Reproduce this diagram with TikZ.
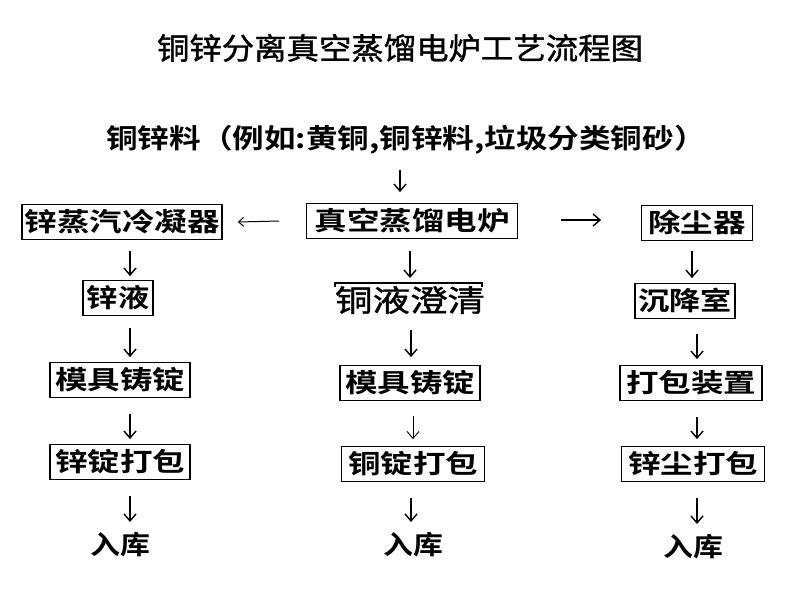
\documentclass[tikz,border=0pt]{standalone}
\usepackage{fontspec}
\usetikzlibrary{arrows.meta}
\newfontfamily\cjk{Noto Sans CJK SC}[BoldFont={Noto Sans CJK SC Bold}]
\newfontfamily\cjkm{Noto Sans CJK SC}[FakeBold=1.2]
\newcommand{\hs}[2]{\scalebox{#1}[1]{#2}}
\tikzset{
  box/.style={draw, line width=1.8pt, font=\cjk\bfseries\fontsize{26}{26}\selectfont,
    inner xsep=0pt, inner ysep=0pt, minimum height=35, text height=22, text depth=4},
  plain/.style={font=\cjk\bfseries\fontsize{26}{26}\selectfont, inner sep=0pt},
  arr/.style={-{Straight Barb[length=7pt,width=12pt]}, line width=1.4pt},
}
\begin{document}
\begin{tikzpicture}[x=1pt,y=-1pt]
\useasboundingbox[fill=white] (0,0) rectangle (800,600);
\node[font=\cjkm\fontsize{30}{30}\selectfont, inner sep=0pt] (title) at (400,48) {\hs{1.08}{铜锌分离真空蒸馏电炉工艺流程图}};
\node[plain, font=\cjk\bfseries\fontsize{27}{27}\selectfont] (src) at (406,140) {\hs{1.17}{铜锌料（例如:黄铜,铜锌料,垃圾分类铜砂）}};

% row 1
\node[box, minimum width=200] (l1) at (122,222) {\hs{1.25}{锌蒸汽冷凝器}};
\node[box, minimum width=211] (c1) at (412,221) {\hs{1.25}{真空蒸馏电炉}};
\node[box, minimum width=111] (r1) at (697,223) {\hs{1.25}{除尘器}};
% row 2
\node[box, minimum width=70] (l2) at (118,298) {\hs{1.2}{锌液}};
\node[font=\cjkm\fontsize{30}{30}\selectfont, inner sep=0pt] (c2) at (410,300) {\hs{1.25}{铜液澄清}};
\node[box, minimum width=100] (r2) at (685,301) {\hs{1.2}{沉降室}};
% row 3
\node[box, minimum width=140] (l3) at (120,380) {\hs{1.25}{模具铸锭}};
\node[box, minimum width=140] (c3) at (410,383) {\hs{1.25}{模具铸锭}};
\node[box, minimum width=142] (r3) at (691,383) {\hs{1.25}{打包装置}};
% row 4
\node[box, minimum width=140] (l4) at (120,462) {\hs{1.25}{锌锭打包}};
\node[box, minimum width=143] (c4) at (413,464) {\hs{1.25}{铜锭打包}};
\node[box, minimum width=143] (r4) at (693,464) {\hs{1.25}{锌尘打包}};
% row 5
\node[plain] (l5) at (120,545) {\hs{1.15}{入库}};
\node[plain] (c5) at (413,545) {\hs{1.15}{入库}};
\node[plain] (r5) at (693,547) {\hs{1.15}{入库}};

% top line over 铜液澄清
\draw[line width=1.1pt] ([xshift=-75,yshift=13]c2.center) -- ([xshift=-75,yshift=17]c2.center)
  -- ([xshift=72,yshift=17]c2.center) -- ([xshift=72,yshift=13]c2.center);

% arrows
\draw[arr] ([xshift=-6,yshift=-30]src.center) -- ([xshift=-12,yshift=10.5]c1.north);
\draw[arr, line width=1pt, -{Straight Barb[length=5pt,width=9pt]}] ([xshift=-26.5]c1.west) -- ([xshift=15]l1.east);
\draw[arr] ([xshift=42.5,yshift=1]c1.east) -- ([xshift=-39.5,yshift=3]r1.west);

\draw[arr] ([xshift=8,yshift=-10.5]l1.south) -- ([xshift=12,yshift=3.5]l2.north);
\draw[arr] ([xshift=12,yshift=-11.5]l2.south) -- ([xshift=10,yshift=4.5]l3.north);
\draw[arr] ([xshift=10,yshift=-15.5]l3.south) -- ([xshift=10,yshift=4.5]l4.north);
\draw[arr] ([xshift=10,yshift=-15.5]l4.south) -- ([xshift=10,yshift=23]l5.center);

\draw[arr] ([xshift=-2,yshift=-11.5]c1.south) -- ([xshift=0,yshift=22]c2.center);
\draw[arr] ([xshift=1,yshift=-30]c2.center) -- ([xshift=1,yshift=7.5]c3.north);
\draw[arr, line width=0.9pt] ([xshift=3,yshift=-14.5]c3.south) -- ([xshift=0,yshift=6.5]c4.north);
\draw[arr] ([xshift=-2,yshift=-15.5]c4.south) -- ([xshift=-2,yshift=23]c5.center);

\draw[arr] ([xshift=-5,yshift=-9.5]r1.south) -- ([xshift=7,yshift=4.5]r2.north);
\draw[arr] ([xshift=12,yshift=-14.5]r2.south) -- ([xshift=6,yshift=5.5]r3.north);
\draw[arr] ([xshift=6,yshift=-15.5]r3.south) -- ([xshift=4,yshift=6.5]r4.north);
\draw[arr] ([xshift=4,yshift=-15.5]r4.south) -- ([xshift=4,yshift=23]r5.center);
\end{tikzpicture}
\end{document}
